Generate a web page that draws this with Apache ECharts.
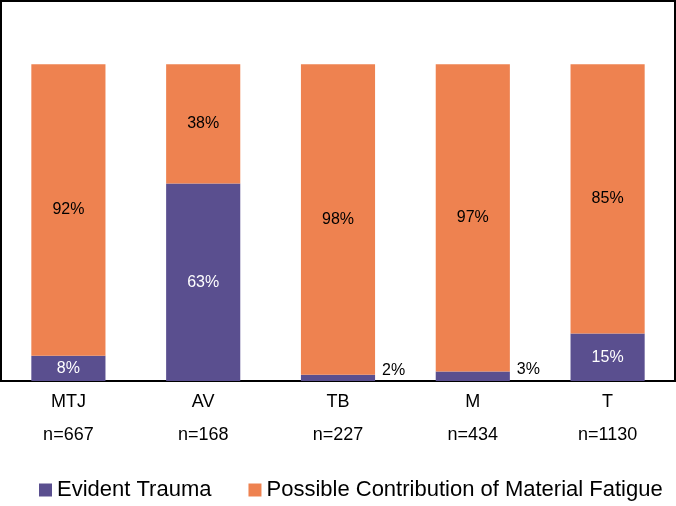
<!DOCTYPE html>
<html>
<head>
<meta charset="utf-8">
<script src="https://cdn.jsdelivr.net/npm/echarts@6/dist/echarts.min.js"></script>
<style>
  html, body { margin: 0; padding: 0; background: #fff; }
  #chart { width: 676px; height: 506px; }
</style>
</head>
<body>
<div id="chart"></div>
<script>
var categories = ['MTJ', 'AV', 'TB', 'M', 'T'];
var counts = [667, 168, 227, 434, 1130];
var trauma = [8, 63, 2, 3, 15];
var fatigue = [92, 38, 98, 97, 85];

var purple = '#5A4F8F';
var orange = '#EE8250';

// 100% stacked, like the spreadsheet: normalise each column by its own total
var traumaShare = [], fatigueShare = [];
for (var i = 0; i < categories.length; i++) {
  var sum = trauma[i] + fatigue[i];
  traumaShare.push({
    value: trauma[i] / sum * 100,
    label: trauma[i] < 5 ? {
      position: 'right', offset: [2, -7], color: '#000'
    } : {}
  });
  fatigueShare.push(fatigue[i] / sum * 100);
}

var byId = echarts.init(document.getElementById('chart'));

var options = {
  animation: false,
  textStyle: { fontFamily: 'Liberation Sans, Arial, sans-serif' },
  grid: {
    left: 1, right: 1, top: 1, bottom: 125,
    show: true,
    borderColor: '#000',
    borderWidth: 2
  },
  legend: {
    data: ['Evident Trauma', 'Possible Contribution of Material Fatigue'],
    left: 34,
    top: 474,
    icon: 'rect',
    itemWidth: 13,
    itemHeight: 13,
    itemGap: 37,
    selectedMode: false,
    textStyle: { fontSize: 22, color: '#000' }
  },
  xAxis: {
    type: 'category',
    data: categories,
    axisLine: { lineStyle: { color: '#000', width: 2 } },
    axisTick: { show: false },
    axisLabel: {
      color: '#000',
      fontSize: 18,
      lineHeight: 33,
      margin: 5,
      formatter: function (v, idx) {
        return v + '\nn=' + counts[idx];
      }
    }
  },
  yAxis: {
    type: 'value',
    min: 0,
    max: 120,
    show: false,
    splitLine: { show: false }
  },
  series: [
    {
      name: 'Evident Trauma',
      type: 'bar',
      stack: 'all',
      barWidth: '55%',
      itemStyle: { color: purple },
      label: {
        show: true,
        position: 'inside',
        fontSize: 16,
        color: '#fff',
        formatter: function (p) { return trauma[p.dataIndex] + '%'; }
      },
      data: traumaShare
    },
    {
      name: 'Possible Contribution of Material Fatigue',
      type: 'bar',
      stack: 'all',
      barWidth: '55%',
      itemStyle: { color: orange },
      label: {
        show: true,
        position: 'inside',
        fontSize: 16,
        color: '#000',
        formatter: function (p) { return fatigue[p.dataIndex] + '%'; }
      },
      data: fatigueShare
    }
  ]
};

byId.setOption(options);
</script>
</body>
</html>
